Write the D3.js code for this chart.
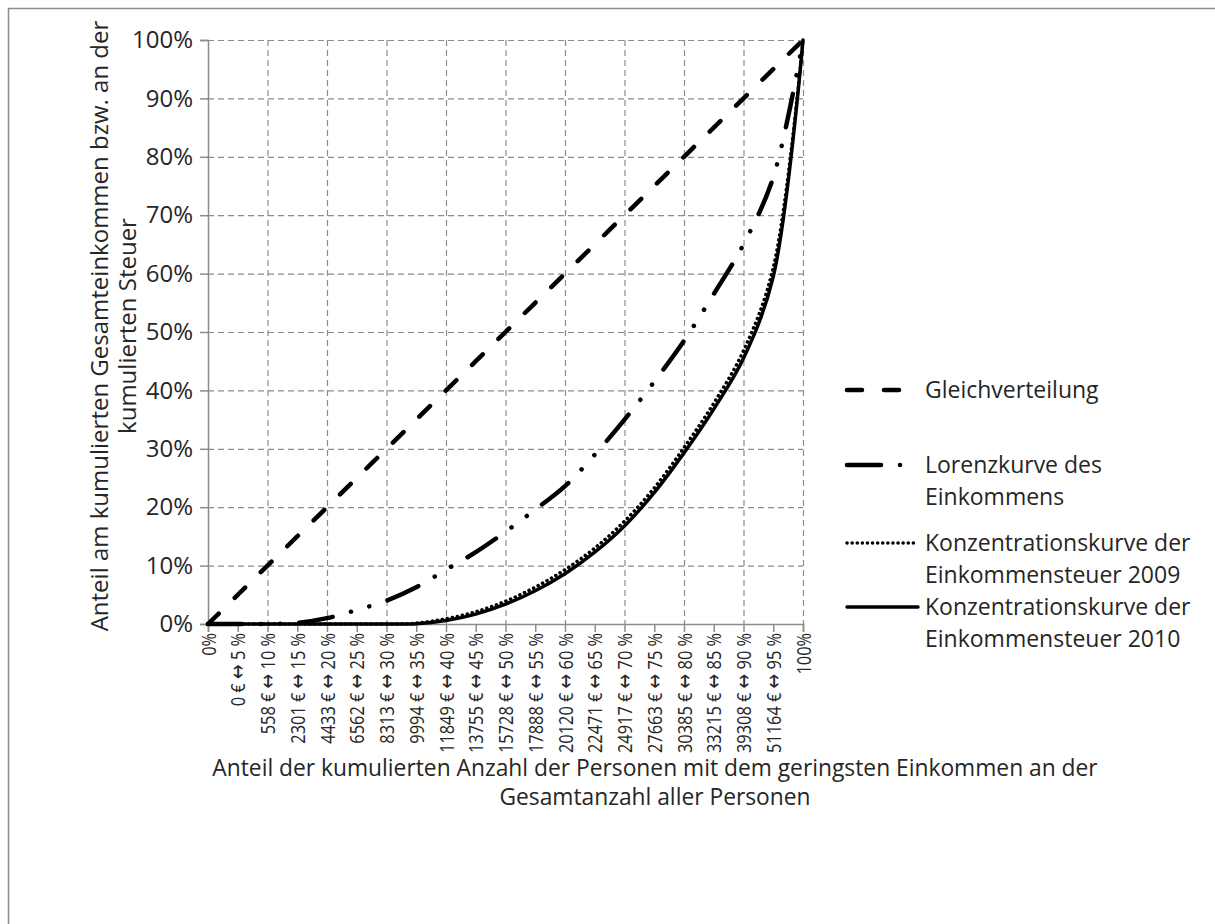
<!DOCTYPE html>
<html>
<head>
<meta charset="utf-8">
<script src="https://cdn.jsdelivr.net/npm/d3@7.9.0/dist/d3.min.js"></script>
<style>
  body { margin: 0; background: #fff; }
  svg { display: block; font-family: 'Open Sans', 'DejaVu Sans', sans-serif; }
  text { white-space: pre; }
</style>
</head>
<body>
<svg id="chart" width="1215" height="924"></svg>
<script>
// categories on the x axis (share of persons, with income bounds)
const xLabels = [
  '0%', '0 € ↔ 5 %', '558 € ↔ 10 %', '2301 € ↔ 15 %', '4433 € ↔ 20 %',
  '6562 € ↔ 25 %', '8313 € ↔ 30 %', '9994 € ↔ 35 %', '11849 € ↔ 40 %',
  '13755 € ↔ 45 %', '15728 € ↔ 50 %', '17888 € ↔ 55 %', '20120 € ↔ 60 %',
  '22471 € ↔ 65 %', '24917 € ↔ 70 %', '27663 € ↔ 75 %', '30385 € ↔ 80 %',
  '33215 € ↔ 85 %', '39308 € ↔ 90 %', '51164 € ↔ 95 %', '100%'
];

// values in percent
const gleich   = [0, 5, 10, 15, 20, 25, 30, 35, 40, 45, 50, 55, 60, 65, 70, 75, 80, 85, 90, 95, 100];
const lorenz   = [0, 0, 0, 0.2, 1, 2.4, 4, 6.3, 9.3, 12.3, 15.8, 19.6, 23.6, 29, 35, 41.5, 48.5, 56.5, 65, 76.5, 100];
const kurve09  = [0, 0, 0, 0, 0, 0, 0, 0.15, 0.9, 2.1, 3.9, 6.3, 9.3, 13, 17.6, 23.3, 30.2, 37.8, 46.8, 61, 100];
const kurve10  = [0, 0, 0, 0, 0, 0, 0, 0.05, 0.6, 1.7, 3.4, 5.7, 8.6, 12.3, 16.8, 22.5, 29.3, 36.8, 45.5, 59.5, 100];

const yTicks = [0, 10, 20, 30, 40, 50, 60, 70, 80, 90, 100];

const series = [
  { name: ['Gleichverteilung'], values: gleich, dash: '15 22', width: 4.5 },
  { name: ['Lorenzkurve des', 'Einkommens'], values: lorenz, dash: '34 19 0.1 19 0.1 19', width: 4.5 },
  { name: ['Konzentrationskurve der', 'Einkommensteuer 2009'], values: kurve09, dash: '0.1 5', width: 3.5 },
  { name: ['Konzentrationskurve der', 'Einkommensteuer 2010'], values: kurve10, dash: null, width: 3.5 }
];

const svg = d3.select('#chart');
const plotLeft = 208, plotRight = 803, plotTop = 40, plotBottom = 624;
const textColor = '#262626';

// outer frame
svg.append('rect')
  .attr('x', 8.5).attr('y', 8.5)
  .attr('width', 1215).attr('height', 1000)
  .attr('fill', 'none').attr('stroke', '#8c8c8c').attr('stroke-width', 1.5);

const x = d3.scalePoint().domain(xLabels).range([plotLeft, plotRight]);
const y = d3.scaleLinear().domain([0, 100]).range([plotBottom, plotTop]);

// grid
const grid = svg.append('g').attr('stroke', '#8c8c8c').attr('stroke-dasharray', '6 4').attr('stroke-width', 1.2);
yTicks.filter((t) => t > 0).forEach((t) => {
  grid.append('line').attr('x1', plotLeft).attr('x2', plotRight).attr('y1', y(t) + 0.5).attr('y2', y(t) + 0.5);
});
xLabels.forEach((lab, i) => {
  if (i > 0 && i % 2 === 0) {
    grid.append('line').attr('x1', x(lab) + 0.5).attr('x2', x(lab) + 0.5).attr('y1', plotTop).attr('y2', plotBottom);
  }
});

// axes
const yAxis = svg.append('g')
  .attr('transform', `translate(${plotLeft},0)`)
  .call(d3.axisLeft(y).tickValues(yTicks).tickFormat((d) => d + '%').tickSize(8).tickPadding(7));

const xAxis = svg.append('g')
  .attr('transform', `translate(0,${plotBottom})`)
  .call(d3.axisBottom(x).tickSize(8).tickPadding(6));

[yAxis, xAxis].forEach((a) => {
  a.attr('font-family', null);
  a.select('.domain').attr('stroke', '#8c8c8c').attr('stroke-width', 1.5);
  a.selectAll('.tick line').attr('stroke', '#8c8c8c').attr('stroke-width', 1.5);
  a.selectAll('.tick text').attr('fill', textColor);
});
yAxis.selectAll('.tick text').attr('font-size', 24);

// rotated category labels; the arrow gets a font that has a proper glyph
const xTickText = xAxis.selectAll('.tick text')
  .attr('font-size', 20.5)
  .attr('transform', 'rotate(-90)')
  .attr('text-anchor', 'end')
  .attr('dy', '0.35em')
  .attr('x', -9)
  .attr('y', 0)
  .each(function (d) {
    const el = d3.select(this).text(null);
    const parts = d.split('↔');
    if (parts.length === 2) {
      el.append('tspan').text(parts[0]);
      el.append('tspan').attr('font-family', 'DejaVu Sans').attr('font-size', 22).text('↔');
      el.append('tspan').text(parts[1]);
    } else {
      el.text(d);
    }
  });

// squeeze them to the narrow look of the original
let maxLen = 0;
xTickText.each(function () { maxLen = Math.max(maxLen, this.getComputedTextLength()); });
const squeeze = 120 / maxLen;
xTickText.each(function () {
  d3.select(this)
    .attr('textLength', this.getComputedTextLength() * squeeze)
    .attr('lengthAdjust', 'spacingAndGlyphs');
});

// lines
const line = d3.line()
  .x((d, i) => x(xLabels[i]))
  .y((d) => y(d))
  .curve(d3.curveCatmullRom.alpha(0.5));

series.forEach((s) => {
  svg.append('path')
    .attr('d', line(s.values))
    .attr('fill', 'none')
    .attr('stroke', '#000')
    .attr('stroke-width', s.width)
    .attr('stroke-linecap', 'round')
    .attr('stroke-dasharray', s.dash);
});

// legend
const legendY = [390, 465, 543, 607];
series.forEach((s, i) => {
  const g = svg.append('g').attr('transform', `translate(845,${legendY[i]})`);
  g.append('line')
    .attr('x1', 2).attr('x2', 73)
    .attr('stroke', '#000')
    .attr('stroke-width', s.width)
    .attr('stroke-linecap', 'round')
    .attr('stroke-dasharray', s.dash);
  s.name.forEach((t, k) => {
    g.append('text')
      .attr('x', 80).attr('y', k * 32).attr('dy', '0.35em')
      .attr('font-size', 23).attr('fill', textColor)
      .text(t);
  });
});

// axis titles
svg.append('text')
  .attr('x', 655).attr('y', 768).attr('dy', '0.35em')
  .attr('text-anchor', 'middle').attr('font-size', 22.8).attr('fill', textColor)
  .text('Anteil der kumulierten Anzahl der Personen mit dem geringsten Einkommen an der');
svg.append('text')
  .attr('x', 655).attr('y', 797).attr('dy', '0.35em')
  .attr('text-anchor', 'middle').attr('font-size', 22.8).attr('fill', textColor)
  .text('Gesamtanzahl aller Personen');

const yTitle = svg.append('g').attr('transform', 'translate(100,326) rotate(-90)');
yTitle.append('text')
  .attr('text-anchor', 'middle').attr('dy', '0.35em').attr('font-size', 24).attr('fill', textColor)
  .text('Anteil am kumulierten Gesamteinkommen bzw. an der');
yTitle.append('text')
  .attr('y', 28)
  .attr('text-anchor', 'middle').attr('dy', '0.35em').attr('font-size', 24).attr('fill', textColor)
  .text('kumulierten Steuer');
</script>
</body>
</html>
